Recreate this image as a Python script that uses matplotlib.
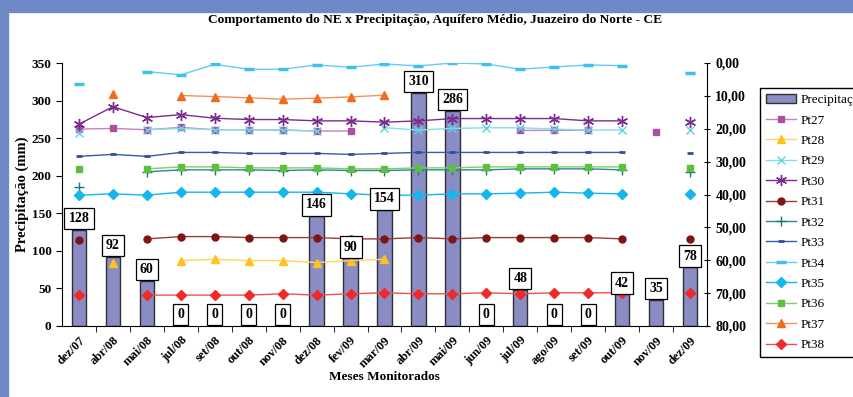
import numpy as np
import matplotlib
matplotlib.use('Agg')
import matplotlib.pyplot as plt
from matplotlib.patches import Rectangle

plt.rcParams['font.family'] = ['Liberation Serif', 'DejaVu Serif']

meses = ['dez/07', 'abr/08', 'mai/08', 'jul/08', 'set/08', 'out/08', 'nov/08',
         'dez/08', 'fev/09', 'mar/09', 'abr/09', 'mai/09', 'jun/09', 'jul/09',
         'ago/09', 'set/09', 'out/09', 'nov/09', 'dez/09']

precipitacao = [128, 92, 60, 0, 0, 0, 0, 146, 90, 154, 310, 286, 0, 48, 0, 0, 42, 35, 78]

# nivel estatico (m), None = sem medicao
pt27 = [20.1, 19.9, 20.3, 19.6, 20.3, 20.3, 20.4, 20.7, 20.7, None, None, None, None, 20.5, 20.5, 20.4, None, 20.9, None]
pt28 = [None, 60.7, None, 60.1, 59.7, 60.1, 60.1, 60.7, 60.1, 59.7, None, None, None, None, None, None, None, None, None]
pt29 = [21.2, None, 20.3, 19.9, 20.3, 20.3, 20.3, 20.7, None, 19.7, 20.4, 19.9, 19.7, 19.7, 20.1, 20.4, 20.4, None, 20.4]
pt30 = [18.6, 13.3, 16.6, 15.7, 16.8, 17.2, 17.2, 17.6, 17.6, 18.0, 17.6, 16.9, 16.9, 16.9, 16.9, 17.6, 17.6, None, 17.8]
pt31 = [53.8, None, 53.5, 52.8, 52.8, 53.1, 53.1, 53.1, 53.5, 53.5, 53.1, 53.5, 53.1, 53.1, 53.1, 53.1, 53.5, None, 53.5]
pt32 = [37.6, None, 33.1, 32.5, 32.5, 32.5, 32.7, 32.5, 32.7, 32.7, 32.5, 32.5, 32.5, 32.2, 32.2, 32.2, 32.5, None, 33.1]
pt33 = [28.4, 27.8, 28.4, 27.2, 27.2, 27.5, 27.5, 27.5, 27.8, 27.5, 27.2, 27.2, 27.2, 27.2, 27.2, 27.2, 27.2, None, 27.5]
pt34 = [6.4, None, 2.6, 3.6, 0.4, 1.9, 1.9, 0.6, 1.3, 0.3, 0.9, 0.0, 0.3, 1.9, 1.2, 0.6, 0.8, None, 3.1]
pt35 = [40.2, 39.8, 40.2, 39.3, 39.3, 39.3, 39.3, 39.3, 39.8, 40.2, 40.2, 39.8, 39.8, 39.6, 39.3, 39.6, 39.8, None, 39.8]
pt36 = [32.2, None, 32.2, 31.6, 31.6, 31.9, 31.9, 31.9, 32.2, 32.2, 31.9, 31.9, 31.6, 31.6, 31.6, 31.6, 31.6, None, 31.9]
pt37 = [None, 9.5, None, 9.9, 10.2, 10.6, 11.0, 10.7, 10.3, 9.8, None, None, None, None, None, None, None, None, None]
pt38 = [70.6, None, 70.6, 70.6, 70.6, 70.6, 70.2, 70.6, 70.2, 69.9, 70.2, 70.2, 69.9, 70.2, 69.9, 69.9, 69.9, None, 69.9]

series = [
    ('Pt27', pt27, 's', '#b04fa0', '#c683b8', 5, 1.0),
    ('Pt28', pt28, '^', '#ffc21f', '#ffd45a', 6, 1.0),
    ('Pt29', pt29, 'x', '#5fd3e6', '#86dcea', 6, 1.0),
    ('Pt30', pt30, (6, 2, 0), '#7b2d8e', '#7b2d8e', 8, 1.0),
    ('Pt31', pt31, 'o', '#7f1414', '#9a3a3a', 5, 1.0),
    ('Pt32', pt32, '+', '#1a7a7a', '#2a8a8a', 7, 1.0),
    ('Pt33', pt33, '_', '#2f4fa0', '#3a5aa8', 5, 2.0),
    ('Pt34', pt34, '_', '#3fc0f0', '#63ccf2', 7, 2.5),
    ('Pt35', pt35, 'D', '#14b6ee', '#14b6ee', 5, 1.0),
    ('Pt36', pt36, 's', '#5dbf3f', '#7fce66', 5, 1.0),
    ('Pt37', pt37, '^', '#f26b1d', '#f5905a', 6, 1.0),
    ('Pt38', pt38, 'D', '#ef2a2a', '#f05050', 5, 1.0),
]

fig = plt.figure(figsize=(8.54, 3.97), dpi=100)
fig.patches.append(Rectangle((0, 0), 8 / 854, 1, transform=fig.transFigure, color='#6e89c6', zorder=0))
fig.patches.append(Rectangle((0, 1 - 12 / 397), 1, 12 / 397, transform=fig.transFigure, color='#6e89c6', zorder=0))

ax = fig.add_axes([62 / 854, 71 / 397, 645 / 854, 263 / 397])
ax2 = ax.twinx()

x = np.arange(len(meses))
bars = ax.bar(x, precipitacao, width=0.42, color='#8a8cc4', edgecolor='#303030', linewidth=1.0,
              label='Precipitação')

ax.set_xlim(-0.5, len(meses) - 0.5)
ax.set_ylim(0, 350)
ax.set_yticks(np.arange(0, 351, 50))
ax.set_xticks(x)
ax.set_xticklabels(meses, rotation=45, ha='right', rotation_mode='anchor', fontsize=9, fontweight='bold')
ax.set_xticks(x[:-1] + 0.5, minor=True)
ax.tick_params(axis='x', which='major', length=0, pad=6)
ax.tick_params(axis='x', which='minor', length=4, direction='out')
ax.tick_params(axis='y', length=4, direction='out', labelsize=9.5)
for t in ax.get_yticklabels():
    t.set_fontweight('bold')
ax.set_ylabel('Precipitação (mm)', fontsize=10.5, fontweight='bold', labelpad=2)
ax.set_xlabel('Meses Monitorados', fontsize=9.5, fontweight='bold', labelpad=1)
for s in ['top', 'right']:
    ax.spines[s].set_visible(False)

handles = [bars]
for nome, vals, mk, mc, lc, ms, mew in series:
    v = np.array([np.nan if a is None else a for a in vals], dtype=float)
    h, = ax2.plot(x, v, color=lc, linewidth=1.0, marker=mk, markersize=ms,
                  markerfacecolor=mc, markeredgecolor=mc, markeredgewidth=mew, label=nome)
    handles.append(h)

ax2.set_ylim(80, 0)
ax2.set_yticks(np.arange(0, 81, 10))
ax2.set_yticklabels(['%d,00' % v for v in range(0, 81, 10)], fontsize=10, fontweight='bold')
ax2.tick_params(axis='y', length=5, direction='inout')
ax2.spines['top'].set_visible(False)
ax2.spines['left'].set_visible(False)
ax2.spines['bottom'].set_visible(False)

for i, p in enumerate(precipitacao):
    ax2.annotate(str(p), xy=(i, p), xycoords=ax.transData, xytext=(0, 3.5), textcoords='offset points',
                 ha='center', va='bottom', fontsize=10, fontweight='bold', zorder=10,
                 bbox=dict(boxstyle='square,pad=0.3', fc='white', ec='black', lw=0.9))

fig.text(435 / 854, 1 - 20 / 397, 'Comportamento do NE x Precipitação, Aquífero Médio, Juazeiro do Norte - CE',
         ha='center', va='center', fontsize=9.6, fontweight='bold')

leg = fig.legend(handles=handles, loc='upper left', bbox_to_anchor=(760 / 854, 1 - 88 / 397),
                 borderaxespad=0, fontsize=9.5, frameon=True, fancybox=False, edgecolor='black',
                 framealpha=1, labelspacing=0.62, handlelength=2.3, handletextpad=0.3, borderpad=0.45)
leg.get_frame().set_linewidth(1.0)

fig.savefig('out.png', dpi=100)
